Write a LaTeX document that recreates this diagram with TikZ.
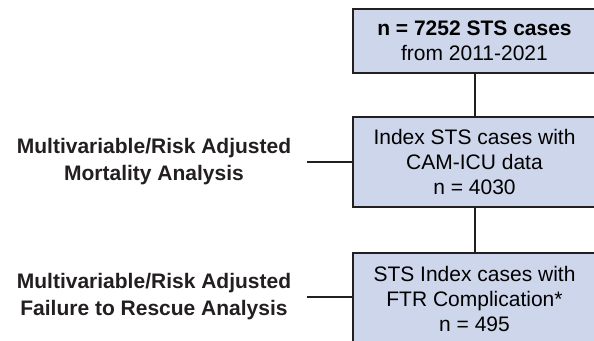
\documentclass[tikz,border=0pt]{standalone}
\usepackage{fontspec}
\setmainfont{Liberation Sans}
\definecolor{boxfill}{RGB}{205,214,234}
\definecolor{ink}{RGB}{35,31,32}
\begin{document}
\begin{tikzpicture}[x=0.5pt,y=-0.5pt,
    casebox/.style={draw=ink,line width=1pt,fill=boxfill,inner sep=0pt,
      minimum width=121.5pt,align=center,font=\fontsize{10.5}{12.5}\selectfont},
    analysis/.style={align=center,inner xsep=7.5pt,text=ink,
      font=\fontsize{10.5}{13.5}\selectfont\bfseries}]
  \useasboundingbox (0,0) rectangle (594,341);
  \clip (0,0) rectangle (594,341);
  \node[casebox,minimum height=32pt] (all) at (474.5,41)
    {{\bfseries\fontsize{10.5}{13.5}\selectfont n = 7252 STS cases}\\from 2011-2021};
  \node[casebox,minimum height=45pt] (camicu) at (474.5,162)
    {Index STS cases with\\CAM-ICU data\\n = 4030};
  \node[casebox,minimum height=46pt] (ftr) at (474.5,299)
    {STS Index cases with\\FTR Complication*\\n = 495};
  \node[analysis] (mort) at (154,162) {Multivariable/Risk Adjusted\\Mortality Analysis};
  \node[analysis] (rescue) at (154,297) {Multivariable/Risk Adjusted\\Failure to Rescue Analysis};
  \begin{scope}[line width=1pt,draw=ink]
    \draw (all) -- (camicu);
    \draw (camicu) -- (ftr);
    \draw (mort.east) -- (mort.east -| camicu.west);
    \draw (rescue.east) -- (rescue.east -| ftr.west);
  \end{scope}
\end{tikzpicture}
\end{document}
